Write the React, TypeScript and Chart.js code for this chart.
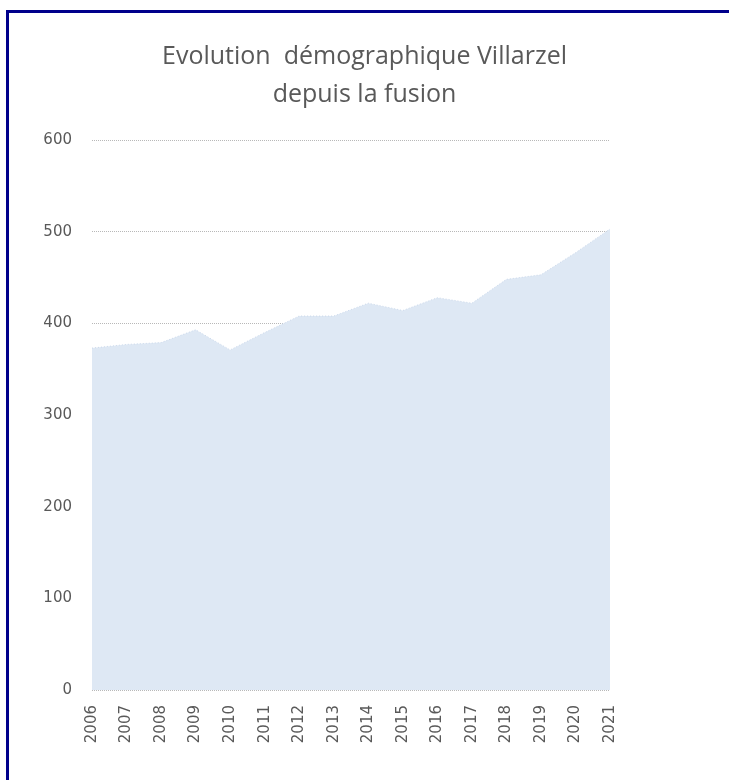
import React, { useEffect, useRef } from 'react';
import { Chart, registerables } from 'chart.js';

Chart.register(...registerables);

const years = ['2006', '2007', '2008', '2009', '2010', '2011', '2012', '2013', '2014', '2015', '2016', '2017', '2018', '2019', '2020', '2021'];
const population = [373, 377, 379, 393, 371, 390, 408, 408, 422, 414, 428, 422, 448, 453, 477, 503];
const yTickValues = [0, 100, 200, 300, 400, 500, 600];
const titleLines = ['Evolution  démographique Villarzel', 'depuis la fusion'];

export default function App() {
  const ref = useRef<HTMLCanvasElement>(null);

  useEffect(() => {
    document.body.style.margin = '0';
    document.body.style.overflow = 'hidden';
    document.body.style.background = '#ffffff';
    const tickFont = { family: '"DejaVu Sans"', size: 15 };
    const chart = new Chart(ref.current!, {
      type: 'line',
      data: {
        labels: years,
        datasets: [
          {
            data: population,
            fill: 'origin',
            backgroundColor: '#DEE8F4',
            borderColor: 'rgba(200,214,234,0.9)',
            borderWidth: 1,
            borderDash: [1, 2],
            pointRadius: 0,
            tension: 0,
          },
        ],
      },
      options: {
        responsive: false,
        animation: false,
        layout: { padding: { left: 0, right: 0, top: 0, bottom: 0 } },
        plugins: {
          legend: { display: false },
          tooltip: { enabled: false },
          title: {
            display: true,
            text: titleLines,
            color: '#595959',
            font: { family: '"Open Sans"', size: 25, weight: 'normal', lineHeight: 38 / 25 },
            padding: { top: 38, bottom: 26 },
          },
        },
        scales: {
          x: {
            grid: { display: false, drawTicks: false },
            border: { display: false },
            ticks: {
              autoSkip: false,
              minRotation: 90,
              maxRotation: 90,
              padding: 15,
              color: '#595959',
              font: tickFont,
            },
            afterFit: (s: any) => {
              s.height = 90;
            },
          },
          y: {
            min: 0,
            max: 600,
            afterBuildTicks: (s: any) => {
              s.ticks = yTickValues.map((v) => ({ value: v }));
            },
            grid: { color: '#b8b8b8', lineWidth: 1, drawTicks: false },
            border: { display: false, dash: [1, 1] },
            ticks: { padding: 20, color: '#595959', font: tickFont },
            afterFit: (s: any) => {
              s.width = 92;
            },
          },
          yRight: {
            position: 'right',
            display: true,
            grid: { display: false, drawTicks: false },
            border: { display: false },
            ticks: { display: false },
            afterFit: (s: any) => {
              s.width = 119;
            },
          },
        },
      },
    } as any);
    return () => chart.destroy();
  }, []);

  return (
    <div>
      <div
        style={{
          position: 'fixed',
          left: 6,
          top: 10,
          width: 723,
          height: 770,
          boxSizing: 'border-box',
          borderLeft: '3px solid #00008b',
          borderTop: '3px solid #00008b',
        }}
      />
      <canvas
        ref={ref}
        width={729}
        height={780}
        style={{ position: 'fixed', left: 0, top: 0, width: 729, height: 780, display: 'block' }}
      />
    </div>
  );
}
